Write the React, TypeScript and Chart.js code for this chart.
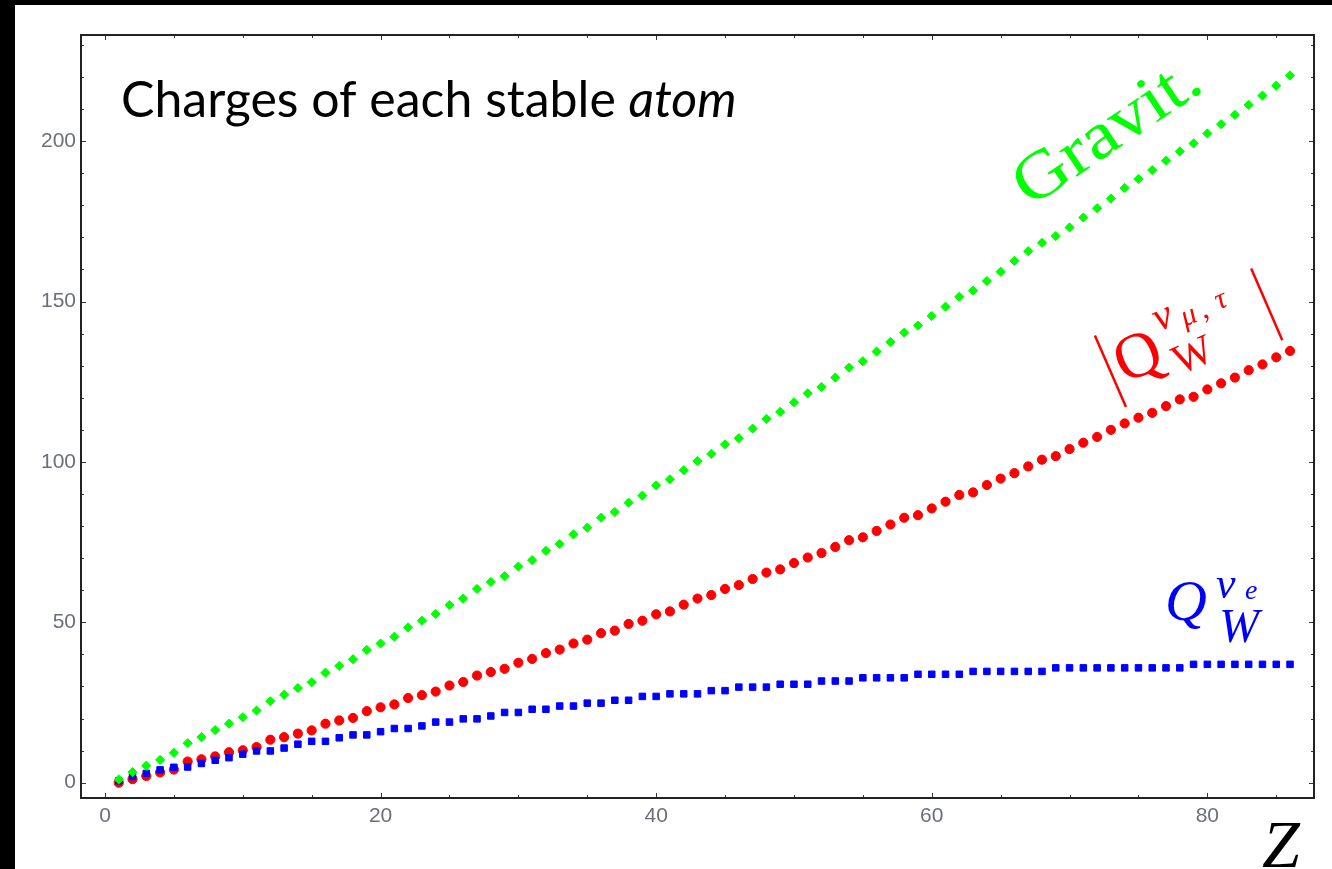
import React, { useEffect, useRef } from "react";
import { Chart, registerables } from "chart.js";
Chart.register(...registerables);

// ---- Data ----
const zValues = [
  1, 2, 3, 4, 5, 6, 7, 8, 9, 10, 11, 12, 13, 14, 15, 16, 17, 18, 19, 20,
  21, 22, 23, 24, 25, 26, 27, 28, 29, 30, 31, 32, 33, 34, 35, 36, 37, 38, 39, 40,
  41, 42, 43, 44, 45, 46, 47, 48, 49, 50, 51, 52, 53, 54, 55, 56, 57, 58, 59, 60,
  61, 62, 63, 64, 65, 66, 67, 68, 69, 70, 71, 72, 73, 74, 75, 76, 77, 78, 79, 80,
  81, 82, 83, 84, 85, 86,
];

const gravitCharge = [
  1.0, 3.3, 5.3, 7.1, 9.3, 12.3, 14.2, 16.4, 18.4, 20.4,
  22.5, 25.4, 27.4, 29.5, 31.3, 34.3, 36.4, 38.5, 41.4, 43.4,
  45.5, 48.4, 50.5, 52.6, 55.4, 57.4, 60.4, 62.6, 64.4, 67.4,
  69.4, 72.3, 74.4, 77.4, 79.5, 82.6, 84.4, 87.3, 89.5, 92.7,
  94.6, 97.4, 100.3, 102.5, 105.5, 107.4, 110.4, 113.4, 115.6, 118.6,
  121.4, 123.4, 126.3, 129.4, 131.4, 134.4, 137.4, 140.3, 142.5, 145.5,
  148.4, 151.5, 153.4, 156.4, 159.3, 162.7, 165.7, 168.3, 170.4, 173.1,
  176.2, 179.1, 182.1, 185.4, 188.2, 191.0, 193.9, 196.8, 199.3, 202.4,
  205.3, 208.2, 211.3, 214.2, 217.3, 220.5,
];

const weakMuTau = [
  0.0, 1.1, 2.1, 3.2, 4.1, 6.6, 7.3, 8.2, 9.5, 10.1,
  11.1, 13.4, 14.2, 15.3, 16.3, 18.4, 19.4, 20.2, 22.3, 23.5,
  24.4, 26.4, 27.3, 28.4, 30.3, 31.4, 33.4, 34.5, 35.5, 37.4,
  38.6, 40.4, 41.5, 43.4, 44.6, 46.6, 47.4, 49.5, 50.5, 52.5,
  53.4, 55.5, 57.4, 58.5, 60.4, 61.6, 63.5, 65.5, 66.5, 68.5,
  70.2, 71.6, 73.5, 75.6, 76.5, 78.5, 80.5, 82.6, 83.4, 85.5,
  87.6, 89.7, 90.5, 92.8, 94.8, 96.5, 98.6, 100.7, 101.8, 104.0,
  106.0, 107.8, 110.0, 112.0, 113.8, 115.3, 117.4, 119.5, 120.3, 122.6,
  124.5, 126.3, 128.6, 130.4, 132.6, 134.6,
];

const weakE = [
  0.6, 1.9, 2.9, 4.0, 4.8, 4.9, 6.0, 7.0, 7.8, 8.9,
  9.9, 9.9, 10.8, 12.0, 12.9, 12.9, 14.0, 14.9, 14.9, 15.9,
  16.9, 16.9, 17.7, 18.9, 18.9, 19.9, 19.9, 20.8, 21.9, 21.9,
  22.9, 22.9, 23.9, 23.9, 24.8, 24.8, 25.7, 25.7, 26.9, 26.9,
  27.7, 27.7, 27.7, 28.7, 28.7, 29.8, 29.8, 29.8, 30.7, 30.7,
  30.7, 31.7, 31.7, 31.7, 32.7, 32.7, 32.7, 32.7, 33.8, 33.8,
  33.8, 33.8, 34.7, 34.7, 34.7, 34.7, 34.7, 34.7, 35.8, 35.8,
  35.8, 35.8, 35.8, 35.8, 35.8, 35.8, 35.8, 35.8, 36.9, 36.9,
  36.9, 36.9, 36.9, 36.9, 36.9, 36.9,
];

const xTickLabels = [0, 20, 40, 60, 80];
const yTickLabels = [0, 50, 100, 150, 200];
const xMinorStep = 5;
const yMinorStep = 10;

const titleText = "Charges of each stable ";
const titleItalic = "atom";

// ---- Layout constants ----
const OX = 15; // canvas offset in page (left black band)
const OY = 5; // top black band
const CW = 1332 - OX;
const CH = 869 - OY;

const toPoints = (ys: number[]) => zValues.map((z, i) => ({ x: z, y: ys[i] }));

const framePlugin = {
  id: "frameTicks",
  beforeDatasetsDraw(chart: any) {
    const { ctx, chartArea: a, scales } = chart;
    const xs = scales.x;
    const ys = scales.y;
    ctx.save();
    ctx.strokeStyle = "#333";
    ctx.lineWidth = 1;
    for (let v = 0; v <= xs.max; v += xMinorStep) {
      const px = Math.round(xs.getPixelForValue(v)) + 0.5;
      const len = v % 20 === 0 ? 5 : 3;
      ctx.beginPath();
      ctx.moveTo(px, a.bottom);
      ctx.lineTo(px, a.bottom - len);
      ctx.moveTo(px, a.top);
      ctx.lineTo(px, a.top + len);
      ctx.stroke();
    }
    for (let v = 0; v <= ys.max; v += yMinorStep) {
      const py = Math.round(ys.getPixelForValue(v)) + 0.5;
      const len = v % 50 === 0 ? 5 : 3;
      ctx.beginPath();
      ctx.moveTo(a.left, py);
      ctx.lineTo(a.left + len, py);
      ctx.moveTo(a.right, py);
      ctx.lineTo(a.right - len, py);
      ctx.stroke();
    }
    ctx.strokeStyle = "#222";
    ctx.lineWidth = 2;
    ctx.strokeRect(a.left, a.top, a.right - a.left, a.bottom - a.top);
    ctx.restore();
  },
  afterDatasetsDraw(chart: any) {
    const { ctx } = chart;
    const P = (x: number, y: number): [number, number] => [x - OX, y - OY];
    ctx.save();
    // Title
    ctx.fillStyle = "#000";
    ctx.textBaseline = "alphabetic";
    ctx.font = "50px Lato";
    const [tx, ty] = P(121, 117);
    ctx.fillText(titleText, tx, ty);
    const w1 = ctx.measureText(titleText).width;
    ctx.font = "italic 50px Lato";
    ctx.fillText(titleItalic, tx + w1, ty);

    // Gravit. label
    ctx.save();
    const [gx, gy] = P(1030, 208);
    ctx.translate(gx, gy);
    ctx.rotate((-34 * Math.PI) / 180);
    ctx.scale(1.13, 1);
    ctx.fillStyle = "#00ff00";
    ctx.font = "67px 'Liberation Serif'";
    ctx.fillText("Gravit.", 0, 0);
    ctx.restore();

    // |Q_W^{nu_mu,tau}| label
    ctx.save();
    const [rx, ry] = P(1126, 407);
    ctx.translate(rx, ry);
    ctx.rotate((-23.5 * Math.PI) / 180);
    ctx.strokeStyle = "#ff0000";
    ctx.fillStyle = "#ff0000";
    ctx.lineWidth = 2.5;
    ctx.beginPath();
    ctx.moveTo(0, 0);
    ctx.lineTo(0, -78);
    ctx.moveTo(170, 1);
    ctx.lineTo(170, -77);
    ctx.stroke();
    ctx.font = "64px 'Liberation Serif'";
    ctx.fillText("Q", 8, -22);
    ctx.font = "42px 'Liberation Serif'";
    ctx.fillText("W", 62, -8);
    ctx.font = "italic 42px 'Liberation Serif'";
    ctx.fillText("ν", 60, -56);
    ctx.font = "italic 30px 'Liberation Serif'";
    ctx.fillText("μ", 86, -50);
    ctx.fillText(",", 106, -50);
    ctx.fillText("τ", 124, -52);
    ctx.restore();

    // Q_W^{nu_e} label
    ctx.fillStyle = "#0000ff";
    ctx.font = "italic 58px 'Liberation Serif'";
    let [bx, by] = P(1165, 620);
    ctx.fillText("Q", bx, by);
    ctx.font = "italic 44px 'Liberation Serif'";
    [bx, by] = P(1216, 598);
    ctx.fillText("ν", bx, by);
    ctx.font = "italic 28px 'Liberation Serif'";
    [bx, by] = P(1245, 599);
    ctx.fillText("e", bx, by);
    ctx.font = "italic 48px 'Liberation Serif'";
    [bx, by] = P(1219, 642);
    ctx.fillText("W", bx, by);

    // Z axis label
    ctx.fillStyle = "#000";
    ctx.font = "italic 68px 'Liberation Serif'";
    [bx, by] = P(1262, 867);
    ctx.fillText("Z", bx, by);
    ctx.restore();
  },
};

export default function App() {
  const ref = useRef<HTMLCanvasElement | null>(null);
  useEffect(() => {
    if (!ref.current) return;
    const tickColor = "#6b6f78";
    const tickFont = { family: "'Liberation Sans', Arial, sans-serif", size: 21 };
    const chart = new Chart(ref.current, {
      type: "scatter",
      data: {
        datasets: [
          {
            label: "Gravit.",
            data: toPoints(gravitCharge),
            pointStyle: "rectRot",
            pointRadius: 4.6,
            pointBorderWidth: 1,
            backgroundColor: "#00ff00",
            borderColor: "#00ff00",
            showLine: false,
          },
          {
            label: "Q_W^{nu_e}",
            data: toPoints(weakE),
            pointStyle: "rect",
            pointRadius: 4.6,
            pointBorderWidth: 1,
            backgroundColor: "#0000ff",
            borderColor: "#0000ff",
            showLine: false,
          },
          {
            label: "|Q_W^{nu_mu,tau}|",
            data: toPoints(weakMuTau),
            pointStyle: "circle",
            pointRadius: 4.6,
            pointBorderWidth: 1,
            backgroundColor: "#ff0000",
            borderColor: "#ff0000",
            showLine: false,
          },
        ],
      },
      options: {
        animation: false,
        responsive: false,
        events: [],
        layout: { padding: { top: 30, right: 18, left: 0, bottom: 0 } },
        plugins: {
          legend: { display: false },
          tooltip: { enabled: false },
          title: { display: false },
        },
        scales: {
          x: {
            type: "linear",
            min: -1.74,
            max: 87.74,
            grid: { display: false, drawTicks: false, tickLength: 0 },
            border: { display: false },
            afterFit: (s: any) => {
              s.height = 71;
            },
            afterBuildTicks: (s: any) => {
              s.ticks = xTickLabels.map((v) => ({ value: v }));
            },
            ticks: {
              color: tickColor,
              font: tickFont,
              padding: 6,
              maxRotation: 0,
              autoSkip: false,
            },
          },
          y: {
            type: "linear",
            min: -4.77,
            max: 233.1,
            grid: { display: false, drawTicks: false, tickLength: 0 },
            border: { display: false },
            afterFit: (s: any) => {
              s.width = 66;
            },
            afterBuildTicks: (s: any) => {
              s.ticks = yTickLabels.map((v) => ({ value: v }));
            },
            ticks: {
              color: tickColor,
              font: tickFont,
              padding: 5,
              autoSkip: false,
            },
          },
        },
      },
      plugins: [framePlugin],
    });
    return () => chart.destroy();
  }, []);

  return (
    <div
      style={{
        position: "fixed",
        left: 0,
        top: 0,
        width: 1332,
        height: 869,
        background: "#000",
        overflow: "hidden",
      }}
    >
      <div
        style={{
          position: "absolute",
          left: OX,
          top: OY,
          width: CW,
          height: CH,
          background: "#fff",
        }}
      >
        <canvas
          ref={ref}
          width={CW}
          height={CH}
          style={{ display: "block", width: CW, height: CH }}
        />
      </div>
    </div>
  );
}
